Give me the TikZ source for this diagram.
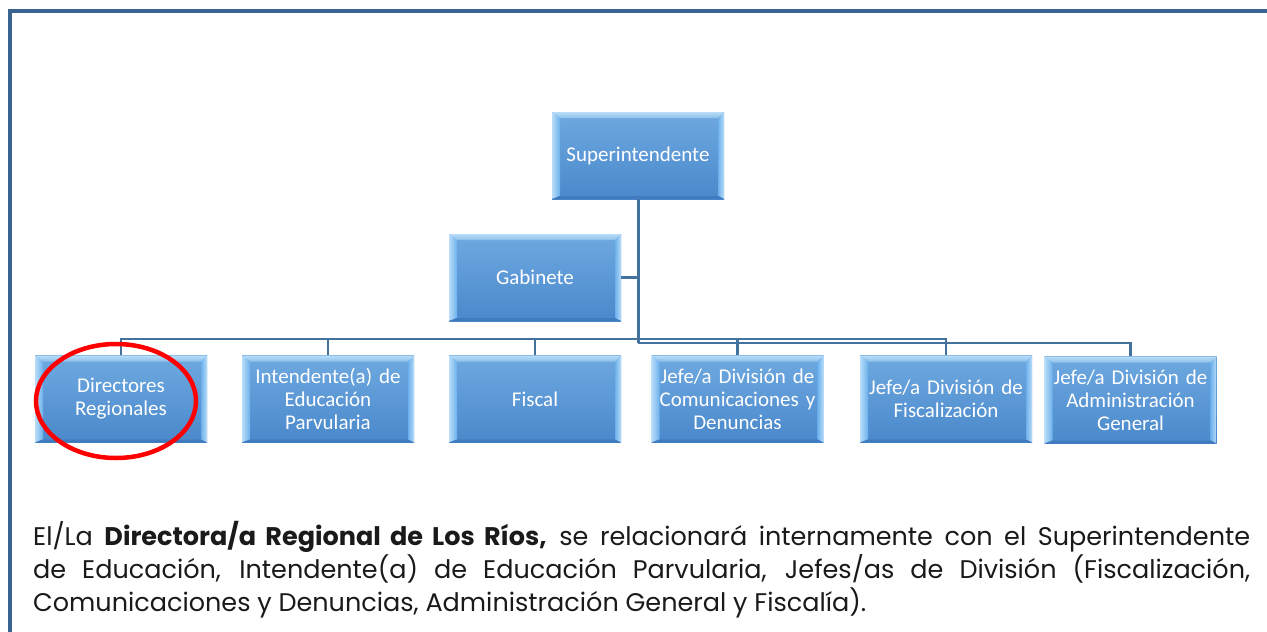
\documentclass[tikz,border=0pt]{standalone}
\usepackage{fontspec}
\setmainfont{Carlito}
\newfontfamily\gothic{Poppins}
\usetikzlibrary{shapes.geometric}
\definecolor{frame}{HTML}{3A6590}
\definecolor{conncol}{HTML}{44729F}
\definecolor{facetop}{HTML}{6EA9E0}
\definecolor{facebot}{HTML}{4A88CB}
\definecolor{bevtop}{HTML}{8DC0EA}
\definecolor{bevedge}{HTML}{B9DDF8}
\definecolor{bevin}{HTML}{6CB0EC}
\definecolor{bevbot}{HTML}{3F7BBE}
\definecolor{txt}{HTML}{1A1A1A}
\tikzset{
  orgbox/.style={rectangle, minimum width=172pt, minimum height=87pt, inner sep=0pt,
    text width=170pt, align=center, text=white,
    font=\fontsize{21}{23}\selectfont,
    top color=facetop, bottom color=facebot,
    path picture={
      \coordinate (pNW) at (path picture bounding box.north west);
      \coordinate (pNE) at (path picture bounding box.north east);
      \coordinate (pSW) at (path picture bounding box.south west);
      \coordinate (pSE) at (path picture bounding box.south east);
      \shade[top color=bevedge, bottom color=bevtop] (pNW) -- (pNE) -- ([xshift=-6pt,yshift=-6pt]pNE) -- ([xshift=8pt,yshift=-6pt]pNW) -- cycle;
      \shade[left color=bevedge, right color=bevin] (pNW) -- ([xshift=8pt,yshift=-6pt]pNW) -- ([xshift=8pt,yshift=3pt]pSW) -- (pSW) -- cycle;
      \shade[left color=bevin, right color=bevedge] (pNE) -- ([xshift=-6pt,yshift=-6pt]pNE) -- ([xshift=-6pt,yshift=3pt]pSE) -- (pSE) -- cycle;
      \fill[bevbot] (pSW) -- ([xshift=8pt,yshift=3pt]pSW) -- ([xshift=-6pt,yshift=3pt]pSE) -- (pSE) -- cycle;
    }},
  conn/.style={draw=conncol, line width=3pt},
  busline/.style={draw=conncol, line width=2.5pt},
}
\begin{document}
\begin{tikzpicture}[x=1pt,y=-1pt]
\useasboundingbox (0,0) rectangle (1267,632);
\fill[white] (0,0) rectangle (1267,632);
\draw[frame, line width=4pt] (1267,11) -- (10,11) -- (10,634);

% nodes
\node[orgbox] (sup) at (638,155.5) {Superintendente};
\node[orgbox] (gab) at (535,277.5) {Gabinete};
\node[orgbox] (dir) at (121,399) {Directores\\Regionales};
\node[orgbox] (int) at (328,399) {Intendente(a) de\\Educación\\Parvularia};
\node[orgbox] (fis) at (535,399) {Fiscal};
\node[orgbox] (com) at (737.5,399) {Jefe/a División de\\Comunicaciones y\\Denuncias};
\node[orgbox] (fz) at (946,399) {Jefe/a División de\\Fiscalización};
\node[orgbox] (adm) at (1130.5,400) {Jefe/a División de\\Administración\\General};

\coordinate (busA) at (0,339);
\coordinate (busB) at (0,343);

% connectors
\draw[conn] (sup.south) -- (sup.south |- busB);
\draw[conn] (gab.east) -- (gab.east -| sup.south);
\draw[busline] (dir.north) -- (dir.north |- busA) -- (fz.north |- busA) -- (fz.north);
\draw[busline] (int.north) -- (int.north |- busA);
\draw[busline] (fis.north) -- (fis.north |- busA);
\draw[busline] (com.north) -- (com.north |- busA);
\draw[busline] (sup.south |- busB) -- (adm.north |- busB) -- (adm.north);

% highlight
\node[ellipse, draw=red, line width=4.5pt, minimum width=160pt, minimum height=114pt, inner sep=0pt] (hl) at (116,401) {};

% paragraph
\node[anchor=north west, inner sep=0pt, text width=1217pt, align=justify, text=txt,
  font=\gothic\fontsize{25.5}{33}\selectfont] (para) at (33,521)
  {El/La \textbf{Directora/a Regional de Los Ríos,} se relacionará internamente con el Superintendente\linebreak
   de Educación, Intendente(a) de Educación Parvularia, Jefes/as de División (Fiscalización,\linebreak
   Comunicaciones y Denuncias, Administración General y Fiscalía).};
\end{tikzpicture}
\end{document}
